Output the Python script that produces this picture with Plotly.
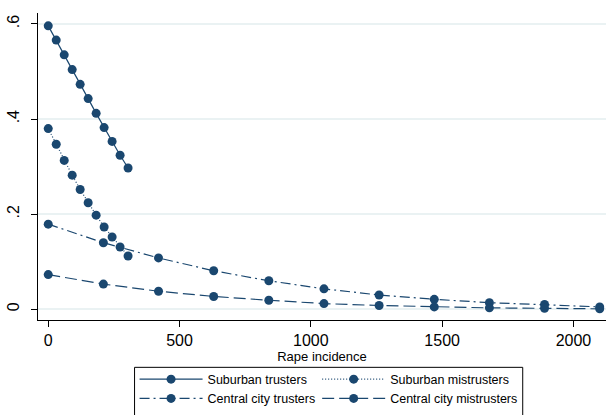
import plotly.graph_objects as go

# ---- data ----
sub_x = [0, 30.4, 60.8, 91.2, 121.6, 152, 182.4, 212.8, 243.2, 273.6, 304]
sub_trusters = [0.596, 0.566, 0.535, 0.504, 0.473, 0.443, 0.412, 0.382, 0.353, 0.324, 0.297]
sub_mistrusters = [0.380, 0.347, 0.313, 0.282, 0.252, 0.224, 0.198, 0.173, 0.152, 0.131, 0.112]

cc_x = [0, 210, 420, 630, 840, 1050, 1260, 1470, 1680, 1890, 2100]
cc_trusters = [0.179, 0.140, 0.108, 0.081, 0.060, 0.043, 0.030, 0.021, 0.014, 0.010, 0.005]
cc_mistrusters = [0.073, 0.053, 0.038, 0.027, 0.019, 0.012, 0.008, 0.005, 0.003, 0.002, 0.001]

x_ticks = [0, 500, 1000, 1500, 2000]
y_ticks = [0, 0.2, 0.4, 0.6]
y_ticktext = ["0", ".2", ".4", ".6"]

NAVY = "#1a476f"
FONT = "Liberation Sans, Arial, Helvetica, sans-serif"

fig = go.Figure()

def add(x, y, name, dash, legend):
    fig.add_trace(go.Scatter(
        x=x, y=y, name=name, mode="lines+markers",
        line=dict(color=NAVY, width=1.2, dash=dash),
        marker=dict(color=NAVY, size=9),
        legend=legend,
    ))

add(sub_x, sub_trusters, "Suburban trusters", "solid", "legend")
add(cc_x, cc_trusters, "Central city trusters", "10px,4px,2px,4px", "legend")
add(sub_x, sub_mistrusters, "Suburban mistrusters", "1px,2px", "legend2")
add(cc_x, cc_mistrusters, "Central city mistrusters", "12px,5px", "legend2")

leg_common = dict(
    orientation="v", xref="paper", yref="paper", xanchor="left", yanchor="top",
    bgcolor="rgba(0,0,0,0)", borderwidth=0, itemwidth=63,
    font=dict(family=FONT, size=12.5, color="black"),
    tracegroupgap=0, itemclick=False,
)

fig.update_layout(
    width=606, height=415,
    margin=dict(l=37.7, r=0, t=13.3, b=95, autoexpand=False),
    paper_bgcolor="white", plot_bgcolor="white",
    showlegend=True,
    legend=dict(x=0.170, y=-0.145, **leg_common),
    legend2=dict(x=0.4915, y=-0.145, **leg_common),
    xaxis=dict(
        range=[-39, 2124], tickvals=x_ticks, showgrid=False, zeroline=False,
        showline=True, linecolor="black", linewidth=1,
        ticks="outside", ticklen=6, tickcolor="black", tickwidth=1,
        tickfont=dict(family=FONT, size=16, color="black"),
        title=dict(text="Rape incidence", font=dict(family=FONT, size=13, color="black"), standoff=3),
    ),
    yaxis=dict(
        range=[-0.0225, 0.623], tickvals=y_ticks, ticktext=y_ticktext,
        tickangle=-90, showgrid=True, gridcolor="#eaf2f3", gridwidth=2,
        zeroline=False, showline=True, linecolor="black", linewidth=1,
        ticks="outside", ticklen=6, tickcolor="black", tickwidth=1,
        ticklabelstandoff=6,
        tickfont=dict(family=FONT, size=16, color="black"),
    ),
    shapes=[dict(
        type="rect", xref="paper", yref="paper",
        x0=0.170, x1=0.8534, y0=-0.1542, y1=-0.40,
        line=dict(color="black", width=1), fillcolor="rgba(0,0,0,0)", layer="above",
    )],
)

fig.write_html("out.html")
